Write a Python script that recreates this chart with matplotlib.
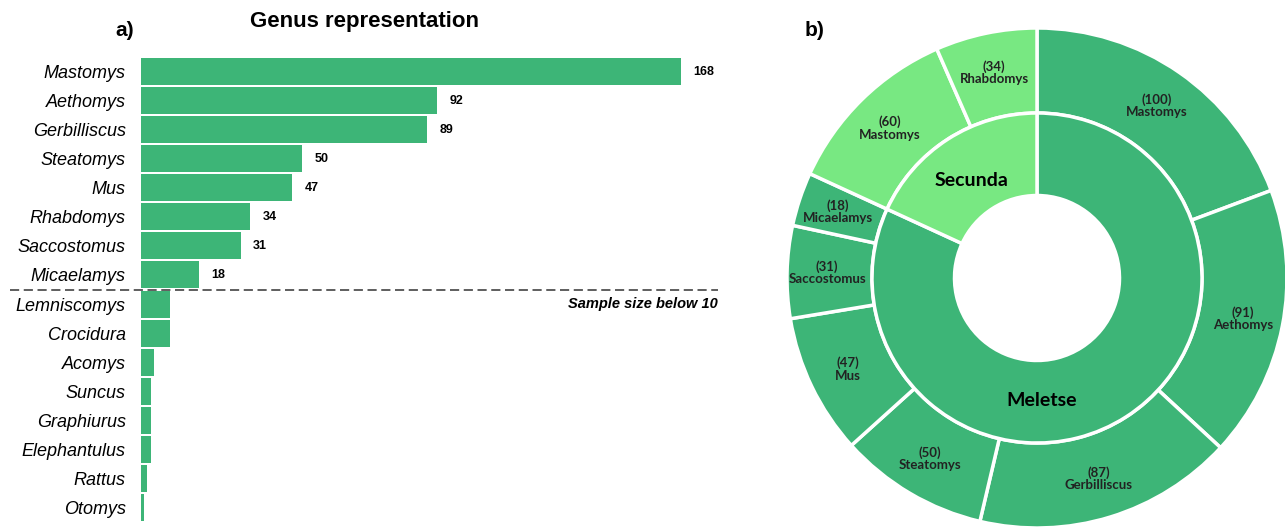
import numpy as np
import matplotlib.pyplot as plt

# Data
genera = ['Mastomys', 'Aethomys', 'Gerbilliscus', 'Steatomys', 'Mus', 'Rhabdomys',
          'Saccostomus', 'Micaelamys', 'Lemniscomys', 'Crocidura', 'Acomys', 'Suncus',
          'Graphiurus', 'Elephantulus', 'Rattus', 'Otomys']
counts = [168, 92, 89, 50, 47, 34, 31, 18, 9, 9, 4, 3, 3, 3, 2, 1]

sites = ['Meletse', 'Secunda']
outer_genera = ['Mastomys', 'Aethomys', 'Gerbilliscus', 'Steatomys', 'Mus',
                'Saccostomus', 'Micaelamys', 'Mastomys', 'Rhabdomys']
outer_counts = [100, 91, 87, 50, 47, 31, 18, 60, 34]
outer_site = [0, 0, 0, 0, 0, 0, 0, 1, 1]

dark = '#3db577'
light = '#78e882'
site_colors = [dark, light]

fig = plt.figure(figsize=(12.85, 5.28), dpi=100)

# a) bar chart
ax1 = fig.add_axes([141/1285, 6/528, 578.6/1285, 465/528])
y = np.arange(len(genera))
ax1.barh(y, counts, height=0.93, color=dark)
ax1.set_xlim(0, 180)
ax1.set_ylim(len(genera) - 0.5, -0.5)
ax1.set_yticks(y)
ax1.set_yticklabels(genera, fontstyle='italic', fontsize=13, family='Liberation Sans')
ax1.tick_params(axis='y', length=0, pad=11)
ax1.set_xticks([])
for s in ax1.spines.values():
    s.set_visible(False)

for i in range(8):
    ax1.annotate(str(counts[i]), (counts[i], i), xytext=(9, 0), textcoords='offset points',
                 ha='left', va='center', fontsize=9, fontweight='bold',
                 family=['Liberation Sans Narrow', 'Liberation Sans'])

ax1.axhline(7.5, xmin=-131/578.6, xmax=0.997, color='#333333', lw=1.1,
            ls=(0, (6, 3)), clip_on=False)
ax1.text(179.5, 7.75, 'Sample size below 10', ha='right', va='top', fontsize=10.5,
         fontweight='bold', fontstyle='italic', family='Liberation Sans')

fig.text(125/1285, 1 - 30/528, 'a)', ha='center', va='center', fontsize=15,
         fontweight='bold', family='Liberation Sans')
fig.text(365/1285, 1 - 22/528, 'Genus representation', ha='center', va='center',
         fontsize=16, fontweight='bold', family=['Liberation Sans Narrow', 'Liberation Sans'])

# b) donut
ax2 = fig.add_axes([787/1285, 0, 500/1285, 500/528])
site_totals = [sum(c for c, s in zip(outer_counts, outer_site) if s == k) for k in range(2)]
wedge = dict(edgecolor='white', linewidth=2.5)
ax2.pie(outer_counts, radius=1.0, colors=[site_colors[s] for s in outer_site],
        startangle=90, counterclock=False, wedgeprops=dict(width=0.34, **wedge))
ax2.pie(site_totals, radius=0.66, colors=site_colors,
        startangle=90, counterclock=False, wedgeprops=dict(width=0.33, **wedge))
ax2.set_xlim(-1, 1)
ax2.set_ylim(-1, 1)
ax2.set_aspect('equal')
ax2.axis('off')

total = sum(outer_counts)
cum = np.cumsum([0] + outer_counts)
for i, (g, c) in enumerate(zip(outer_genera, outer_counts)):
    mid = np.deg2rad((cum[i] + c / 2) / total * 360)
    ax2.text(0.84 * np.sin(mid), 0.84 * np.cos(mid), '(%d)\n%s' % (c, g),
             ha='center', va='center', fontsize=9.5, fontweight='bold',
             family='Lato', linespacing=1.05, color='#222222')

ax2.text(-0.26, 0.39, 'Secunda', ha='center', va='center', fontsize=14,
         fontweight='bold', family='Lato')
ax2.text(0.02, -0.49, 'Meletse', ha='center', va='center', fontsize=14,
         fontweight='bold', family='Lato')

fig.text(815/1285, 1 - 30/528, 'b)', ha='center', va='center', fontsize=15,
         fontweight='bold', family='Liberation Sans')

fig.savefig('out.png', dpi=100)
